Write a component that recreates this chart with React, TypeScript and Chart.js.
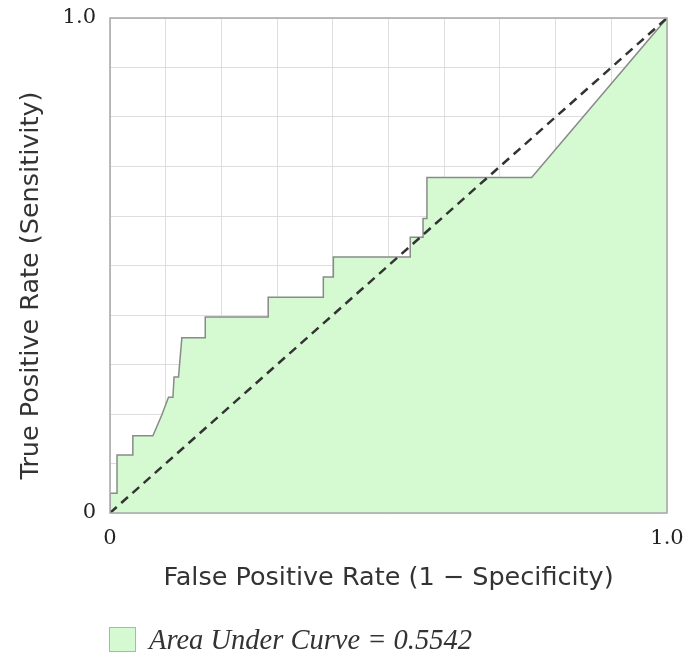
import React, { useEffect, useRef } from "react";
import { Chart, registerables } from "chart.js";

Chart.register(...registerables);

// ROC curve (False Positive Rate vs True Positive Rate)
const fprValues = [0, 0, 0.0126, 0.0126, 0.041, 0.041, 0.077, 0.093, 0.105, 0.113, 0.115, 0.123, 0.129, 0.171, 0.171, 0.284, 0.284, 0.383, 0.383, 0.401, 0.401, 0.539, 0.539, 0.562, 0.562, 0.569, 0.569, 0.757, 1];
const tprValues = [0, 0.04, 0.04, 0.117, 0.117, 0.156, 0.156, 0.198, 0.234, 0.234, 0.275, 0.275, 0.354, 0.354, 0.396, 0.396, 0.436, 0.436, 0.477, 0.477, 0.517, 0.517, 0.557, 0.557, 0.595, 0.595, 0.678, 0.678, 1];

// Reference (chance) diagonal
const diagonalX = [0, 1];
const diagonalY = [0, 1];

// Axis tick labels shown
const tickValues = [0, 1];
const tickTexts = ["0", "1.0"];

const aucValue = 0.5542;
const legendLabel = `Area Under Curve = ${aucValue}`;
const xTitle = "False Positive Rate (1 \u2212 Specificity)";
const yTitle = "True Positive Rate (Sensitivity)";

const FILL = "#d5fad2";
const SANS = "'DejaVu Sans', sans-serif";
const SERIF = "'DejaVu Serif', serif";
const LEGEND_SERIF = "'Liberation Serif', 'Times New Roman', serif";
const TITLE_SIZE = 25.5;

function tickCb(value: number | string) {
  const v = Number(value);
  for (let i = 0; i < tickValues.length; i++) {
    if (Math.abs(v - tickValues[i]) < 1e-9) return tickTexts[i];
  }
  return "";
}

const borderPlugin = {
  id: "plotBorder",
  afterDatasetsDraw(chart: any) {
    const { ctx, chartArea } = chart;
    ctx.save();
    ctx.strokeStyle = "#a8a8a8";
    ctx.lineWidth = 1.5;
    ctx.strokeRect(chartArea.left, chartArea.top, chartArea.right - chartArea.left, chartArea.bottom - chartArea.top);
    ctx.restore();
  },
  afterDraw(chart: any) {
    const { ctx, chartArea } = chart;
    ctx.save();
    ctx.translate(31, (chartArea.top + chartArea.bottom) / 2 + 20);
    ctx.rotate(-Math.PI / 2);
    ctx.font = `${TITLE_SIZE}px ${SANS}`;
    ctx.fillStyle = "#333";
    ctx.textAlign = "center";
    ctx.textBaseline = "middle";
    ctx.fillText(yTitle, 0, 0);
    ctx.restore();
  },
};

export default function App() {
  const ref = useRef<HTMLCanvasElement | null>(null);
  useEffect(() => {
    if (!ref.current) return;
    const chart = new Chart(ref.current, {
      type: "scatter",
      data: {
        datasets: [
          {
            label: "diag",
            data: diagonalX.map((x, i) => ({ x, y: diagonalY[i] })),
            showLine: true,
            borderColor: "#333333",
            borderWidth: 2.5,
            borderDash: [9, 6],
            pointRadius: 0,
            fill: false,
            order: 0,
          },
          {
            label: legendLabel,
            data: fprValues.map((x, i) => ({ x, y: tprValues[i] })),
            showLine: true,
            borderColor: "#8a8a8a",
            borderWidth: 1.5,
            backgroundColor: FILL,
            pointRadius: 0,
            fill: "origin",
            tension: 0,
            order: 1,
          },
        ],
      },
      plugins: [borderPlugin],
      options: {
        responsive: false,
        animation: false,
        layout: { padding: { left: 0, top: 18, right: 20, bottom: 0 } },
        plugins: { legend: { display: false }, tooltip: { enabled: false } },
        scales: {
          x: {
            type: "linear",
            min: 0,
            max: 1,
            afterFit: (s: any) => { s.height = 145; s.paddingLeft = 0; s.paddingRight = 0; },
            ticks: { stepSize: 0.1, callback: tickCb, padding: 15, maxRotation: 0, autoSkip: false, color: "#222", font: { family: SERIF, size: 21, lineHeight: 1 } },
            grid: { color: "#dedede", lineWidth: 1, drawTicks: false },
            border: { display: false },
            title: { display: true, text: xTitle, color: "#333", font: { family: SANS, size: TITLE_SIZE, lineHeight: 1 }, padding: { top: 0, bottom: 67 } },
          },
          y: {
            type: "linear",
            min: 0,
            max: 1,
            afterFit: (s: any) => { s.width = 110; s.paddingTop = 0; s.paddingBottom = 0; },
            ticks: { stepSize: 0.1, callback: tickCb, padding: 14, autoSkip: false, color: "#222", font: { family: SERIF, size: 21, lineHeight: 1 } },
            grid: { color: "#dedede", lineWidth: 1, drawTicks: false },
            border: { display: false },
            title: { display: false },
          },
        },
      },
    } as any);
    return () => chart.destroy();
  }, []);

  return (
    <div style={{ position: "fixed", left: 0, top: 0, width: 687, height: 658, background: "#fff" }}>
      <canvas ref={ref} width={687} height={658} style={{ display: "block" }} />
      <div style={{ position: "absolute", left: 109, top: 627, width: 25, height: 23, background: FILL, border: "1px solid #9fc09c" }} />
      <div style={{ position: "absolute", left: 149, top: 621, lineHeight: "38px", fontFamily: LEGEND_SERIF, fontStyle: "italic", fontSize: 28.5, color: "#333", whiteSpace: "nowrap" }}>
        {legendLabel}
      </div>
    </div>
  );
}
